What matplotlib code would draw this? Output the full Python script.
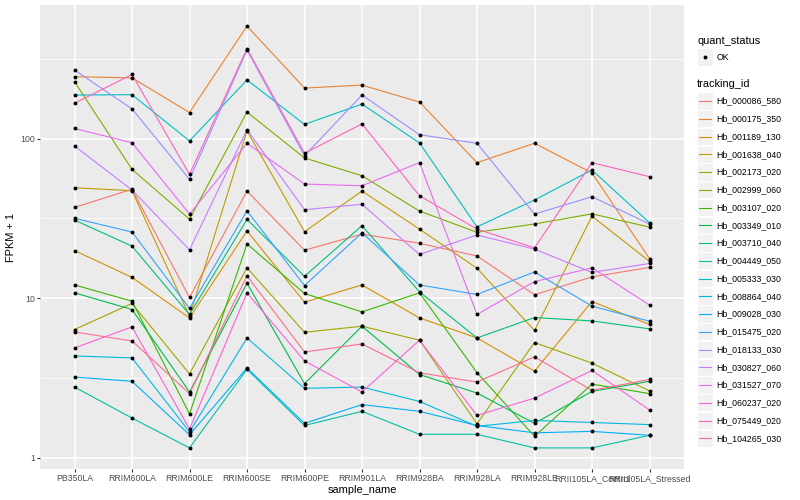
import numpy as np
import matplotlib
matplotlib.use("Agg")
import matplotlib.pyplot as plt
from matplotlib.patches import Rectangle

plt.rcParams['font.family'] = ['Liberation Sans', 'DejaVu Sans']

#### data : FPKM + 1 per gene, one value per sample

samples = ["PB350LA", "RRIM600LA", "RRIM600LE", "RRIM600SE", "RRIM600PE", "RRIM901LA",
           "RRIM928BA", "RRIM928LA", "RRIM928LE", "RRII105LA_Control", "RRII105LA_Stressed"]

tracking_ids = ["Hb_000086_580", "Hb_000175_350", "Hb_001189_130", "Hb_001638_040",
                "Hb_002173_020", "Hb_002999_060", "Hb_003107_020", "Hb_003349_010",
                "Hb_003710_040", "Hb_004449_050", "Hb_005333_030", "Hb_008864_040",
                "Hb_009028_030", "Hb_015475_020", "Hb_018133_030", "Hb_030827_060",
                "Hb_031527_070", "Hb_060237_020", "Hb_075449_020", "Hb_104265_030"]

hb_000086_580 = [37.1, 48.2, 10.1, 47.0, 20.0, 25.2, 22.1, 18.4, 10.5, 13.6, 15.6]
hb_000175_350 = [245, 241, 146, 509, 208, 217, 170, 70.8, 93.7, 61.0, 17.7]
hb_001189_130 = [19.9, 13.5, 7.52, 26.4, 9.44, 12.1, 7.52, 5.63, 3.49, 9.53, 6.84]
hb_001638_040 = [49.3, 47.2, 7.71, 112, 26.1, 47.0, 27.1, 15.4, 6.27, 32.7, 17.0]
hb_002173_020 = [6.36, 9.26, 3.35, 15.5, 6.11, 6.67, 5.45, 1.63, 5.27, 3.91, 2.62]
hb_002999_060 = [228, 64.3, 31.3, 147, 75.8, 58.6, 35.2, 25.9, 29.2, 33.8, 27.9]
hb_003107_020 = [12.1, 9.58, 1.88, 21.9, 10.7, 8.20, 10.8, 3.41, 1.36, 2.89, 2.52]
hb_003349_010 = [10.8, 8.49, 2.58, 12.4, 2.91, 6.67, 3.32, 2.54, 1.64, 2.60, 3.01]
hb_003710_040 = [30.9, 21.2, 7.90, 31.2, 13.7, 28.5, 10.95, 5.63, 7.56, 7.20, 6.42]
hb_004449_050 = [2.77, 1.77, 1.15, 3.58, 1.59, 1.95, 1.40, 1.40, 1.15, 1.15, 1.38]
hb_005333_030 = [188, 189, 96.9, 234, 123, 165, 94.1, 28.0, 41.3, 63.7, 29.7]
hb_008864_040 = [4.34, 4.22, 1.45, 5.63, 2.72, 2.77, 2.25, 1.57, 1.71, 1.66, 1.61]
hb_009028_030 = [3.20, 3.01, 1.39, 3.65, 1.64, 2.15, 1.95, 1.59, 1.43, 1.46, 1.38]
hb_015475_020 = [31.7, 26.0, 8.62, 35.3, 12.0, 25.7, 12.1, 10.55, 14.6, 8.91, 7.17]
hb_018133_030 = [270, 154, 55.7, 360, 78.3, 188, 106, 93.7, 33.7, 43.3, 29.2]
hb_030827_060 = [90.1, 47.7, 20.1, 114, 35.9, 38.8, 18.8, 24.9, 20.3, 14.5, 16.5]
hb_031527_070 = [116, 94.5, 33.7, 93.7, 52.0, 50.7, 70.8, 7.90, 12.7, 15.5, 9.04]
hb_060237_020 = [4.87, 6.60, 1.51, 10.8, 4.04, 2.58, 5.45, 1.84, 2.36, 3.52, 1.99]
hb_075449_020 = [167, 253, 59.8, 368, 81.1, 124, 43.9, 27.1, 20.7, 70.8, 57.8]
hb_104265_030 = [6.14, 5.39, 2.52, 13.8, 4.60, 5.16, 3.40, 2.98, 4.28, 2.64, 3.09]

series = [hb_000086_580, hb_000175_350, hb_001189_130, hb_001638_040, hb_002173_020,
          hb_002999_060, hb_003107_020, hb_003349_010, hb_003710_040, hb_004449_050,
          hb_005333_030, hb_008864_040, hb_009028_030, hb_015475_020, hb_018133_030,
          hb_030827_060, hb_031527_070, hb_060237_020, hb_075449_020, hb_104265_030]

# ggplot hue palette, 20 levels
colors = ["#F8766D", "#EA8331", "#D89000", "#C09B00", "#A3A500", "#7CAE00", "#39B600",
          "#00BB4E", "#00BF7D", "#00C1A3", "#00BFC4", "#00BAE0", "#00B0F6", "#35A2FF",
          "#9590FF", "#C77CFF", "#E76BF3", "#FA62DB", "#FF62BC", "#FF6C91"]

#### figure

W, H = 800, 500
fig = plt.figure(figsize=(W / 100, H / 100), dpi=100)
ax = fig.add_axes([40 / W, 1 - 469 / H, 644 / W, 464 / H])
ax.set_facecolor('#EBEBEB')

x = np.arange(len(samples))
for vals, c in zip(series, colors):
    ax.plot(x, vals, color=c, lw=0.8, zorder=2)
for vals in series:
    ax.plot(x, vals, 'o', color='black', ms=2.8, mew=0, zorder=3)

ax.set_yscale('log')
allv = np.concatenate([np.array(s) for s in series])
lo, hi = np.log10(allv.min()), np.log10(allv.max())
pad = 0.05 * (hi - lo)
ax.set_ylim(10 ** (lo - pad), 10 ** (hi + pad))
ax.set_xlim(-0.6, len(samples) - 0.4)

ax.set_yticks([1, 10, 100])
ax.set_yticklabels(["1", "10", "100"])
ax.set_yticks([10 ** 0.5, 10 ** 1.5, 10 ** 2.5], minor=True)
ax.set_xticks(x)
ax.set_xticklabels(samples)

ax.grid(True, which='major', color='white', lw=1.1, zorder=0)
ax.grid(True, which='minor', axis='y', color='white', lw=0.55, zorder=0)
ax.set_axisbelow(True)
for sp in ax.spines.values():
    sp.set_visible(False)
ax.tick_params(which='major', length=2.2, width=0.8, color='#333333',
               labelsize=6.3, labelcolor='#4D4D4D', pad=1.5)
ax.tick_params(which='minor', length=0)

ax.set_xlabel("sample_name", fontsize=7.9, labelpad=1.5)
ax.set_ylabel("FPKM + 1", fontsize=7.9, labelpad=3)

#### legend (drawn like ggplot keys)

lax = fig.add_axes([0, 0, 1, 1])
lax.set_xlim(0, W)
lax.set_ylim(H, 0)
lax.axis('off')

kx, kw, kh = 697, 15.5, 17.3
lax.text(kx, 40.7, "quant_status", fontsize=7.9, va='center', ha='left')
lax.add_patch(Rectangle((kx, 57 - kh / 2), kw, kh, fc='#F2F2F2', ec='white', lw=0.8))
lax.plot([kx + kw / 2], [57], 'o', color='black', ms=2.8, mew=0)
lax.text(kx + 19.5, 57, "OK", fontsize=6.3, va='center', ha='left')

lax.text(kx, 84, "tracking_id", fontsize=7.9, va='center', ha='left')
y0, dy = 101, 17.75
for i, (tid, c) in enumerate(zip(tracking_ids, colors)):
    yy = y0 + i * dy
    lax.add_patch(Rectangle((kx, yy - kh / 2), kw, kh, fc='#F2F2F2', ec='white', lw=0.8))
    lax.plot([kx + 1.5, kx + kw - 1.5], [yy, yy], color=c, lw=0.8)
    lax.text(kx + 19.5, yy, tid, fontsize=6.3, va='center', ha='left')

fig.savefig("out.png", dpi=100)
